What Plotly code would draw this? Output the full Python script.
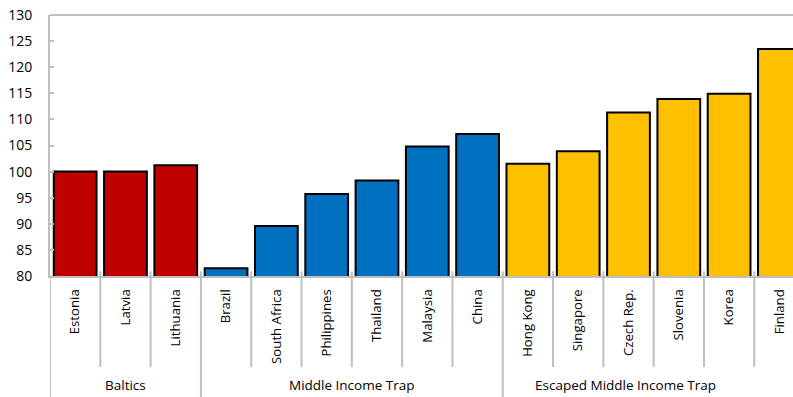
import plotly.graph_objects as go

# Index values by country, grouped by development path
countries = ["Estonia", "Latvia", "Lithuania",
             "Brazil", "South Africa", "Philippines", "Thailand", "Malaysia", "China",
             "Hong Kong", "Singapore", "Czech Rep.", "Slovenia", "Korea", "Finland"]
values = [100.0, 100.0, 101.2,
          81.5, 89.6, 95.7, 98.3, 104.8, 107.2,
          101.5, 103.9, 111.3, 113.9, 114.9, 123.5]
groups = ["Baltics", "Middle Income Trap", "Escaped Middle Income Trap"]
group_sizes = [3, 6, 6]
group_colors = ["#C00000", "#0070C0", "#FFC000"]

y_ticks = list(range(80, 131, 5))

GRID = "#BFBFBF"
FONT = "Open Sans, Segoe UI, sans-serif"

bar_colors = []
for color, n in zip(group_colors, group_sizes):
    bar_colors += [color] * n

fig = go.Figure()
fig.add_trace(go.Bar(
    x=countries, y=values,
    marker=dict(color=bar_colors, line=dict(color="black", width=2)),
    width=0.85,
    hoverinfo="x+y",
))

# Divider lines below the axis: short between countries, long between groups
boundaries = [0]
for n in group_sizes:
    boundaries.append(boundaries[-1] + n)
shapes = []
for i in range(len(countries)):
    pos = i - 0.5
    is_group_edge = i in boundaries
    shapes.append(dict(
        type="line", xref="x", yref="paper",
        x0=pos, x1=pos, y0=0.018 if i else 0,
        y1=-0.4636 if is_group_edge else -0.3487,
        line=dict(color=GRID, width=2),
    ))
# top border of plot area
shapes.append(dict(type="line", xref="paper", yref="paper", x0=0, x1=1, y0=1, y1=1,
                   line=dict(color=GRID, width=2)))

# Group labels under the country labels
annotations = []
label_x = [1.0, 5.5, 10.95]
for g, lx in zip(groups, label_x):
    annotations.append(dict(
        x=lx, y=-0.418, xref="x", yref="paper", text=g, showarrow=False,
        xanchor="center", yanchor="middle",
        font=dict(family=FONT, size=13.5, color="#000000"),
    ))

fig.update_layout(
    width=793, height=397,
    margin=dict(l=50, r=0, t=15, b=121),
    paper_bgcolor="white", plot_bgcolor="white",
    showlegend=False,
    bargap=0.15,
    shapes=shapes,
    annotations=annotations,
    font=dict(family=FONT, size=13, color="#000000"),
)
fig.update_xaxes(
    type="category",
    categoryorder="array", categoryarray=countries,
    range=[-0.5, 14.27],
    tickangle=-90,
    tickfont=dict(family=FONT, size=13.2, color="#000000"),
    showline=True, linecolor=GRID, linewidth=2,
    ticks="", ticklabelstandoff=6,
    showgrid=False, zeroline=False,
)
fig.update_yaxes(
    range=[80, 130],
    tickvals=y_ticks,
    ticktext=[str(t) for t in y_ticks],
    tickfont=dict(family=FONT, size=14, color="#000000"),
    showline=True, linecolor=GRID, linewidth=2,
    ticks="inside", ticklen=4, tickcolor=GRID, tickwidth=2,
    ticklabelstandoff=13,
    showgrid=False, zeroline=False,
)

fig.write_html("out.html")
